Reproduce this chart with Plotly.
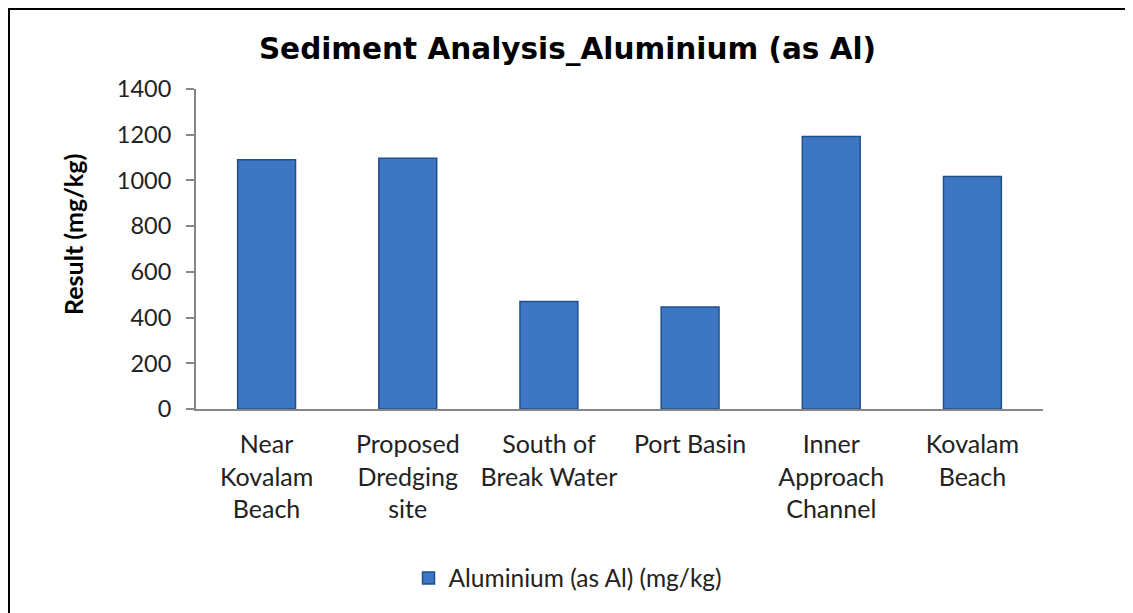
import plotly.graph_objects as go

categories = ["Near<br>Kovalam<br>Beach", "Proposed<br>Dredging<br>site", "South of<br>Break Water",
              "Port Basin", "Inner<br>Approach<br>Channel", "Kovalam<br>Beach"]
values = [1090, 1097, 470, 446, 1192, 1017]
series_name = "Aluminium (as Al) (mg/kg)"
y_ticks = [0, 200, 400, 600, 800, 1000, 1200, 1400]

# page body has an 8px margin; work in reference-image pixel coordinates
OFF = 8
W, H = 1133 - OFF, 613 - OFF
L, R, T, B = 196 - OFF, 1133 - 1043, 89 - OFF, 613 - 409
pw, ph = W - L - R, H - T - B

def px(x):
    return (x - OFF - L) / pw

def py(y):
    return (H - B - (y - OFF)) / ph

fig = go.Figure()
fig.add_trace(go.Bar(
    x=categories, y=values, name=series_name, width=0.41,
    marker=dict(color="#3D77C4", line=dict(color="#214F8C", width=1.5)),
    showlegend=True,
))

fig.update_layout(
    width=W, height=H,
    margin=dict(l=L, r=R, t=T, b=B),
    paper_bgcolor="white", plot_bgcolor="white",
    title=dict(text="<b>Sediment Analysis_Aluminium (as Al)</b>", x=px(567.5), xanchor="center",
               xref="paper", y=1 - (49 - OFF) / H, yanchor="middle",
               font=dict(family="DejaVu Sans", size=29.5, color="black")),
    font=dict(family="Lato", size=24, color="#222222"),
    showlegend=True,
    legend=dict(orientation="h", x=px(568), xanchor="center", y=py(578), yanchor="middle",
                itemwidth=30, font=dict(family="Lato", size=24.5, color="#222222")),
    bargap=0.59,
    shapes=[dict(type="rect", xref="paper", yref="paper",
                 x0=px(8.5), x1=px(1127.5), y0=py(625), y1=py(8.5),
                 line=dict(color="black", width=3), fillcolor="rgba(0,0,0,0)")],
    annotations=[dict(text="<b>Result (mg/kg)</b>", textangle=-90, xref="paper", yref="paper",
                      x=px(73), y=py(235), xanchor="center", yanchor="middle", showarrow=False,
                      font=dict(family="Lato", size=25, color="black"))],
)
fig.update_xaxes(showline=True, linecolor="#868686", linewidth=2, ticks="", showgrid=False,
                 ticklabelstandoff=12,
                 tickfont=dict(family="Lato", size=25, color="#222222"))
fig.update_yaxes(range=[0, 1400], tickvals=y_ticks, showline=True, linecolor="#868686", linewidth=2,
                 ticks="outside", ticklen=8, tickcolor="#868686", tickwidth=2, showgrid=False,
                 ticklabelstandoff=10,
                 tickfont=dict(family="Lato", size=23.5, color="#222222"))

fig.write_html("out.html")
